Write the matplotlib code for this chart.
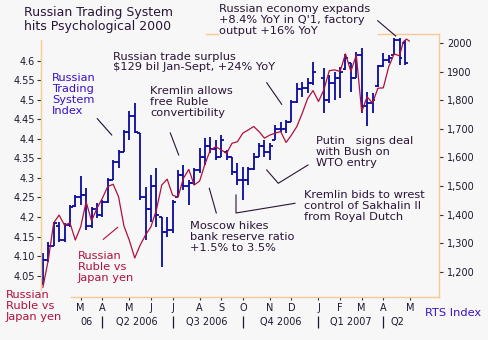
import matplotlib
matplotlib.use("Agg")
import matplotlib.pyplot as plt
from matplotlib.lines import Line2D
import numpy as np

W, H = 489, 340
BG = "#F7F7F7"
FRAME = "#F9C98F"
BLUE = "#0A0A9E"
RED = "#B0103C"
TXT = "#2A1438"
IDX = "#3A10C8"

# RTS weekly bars (week index from mid-Jan 2006; week 51 = New Year break, no bar)
weeks = [0, 1, 2, 3, 4, 5, 6, 7, 8, 9, 10, 11, 12, 13, 14, 15, 16, 17, 18, 19,
         20, 21, 22, 23, 24, 25, 26, 27, 28, 29, 30, 31, 32, 33, 34, 35, 36, 37, 38, 39,
         40, 41, 42, 43, 44, 45, 46, 47, 48, 49, 50, 52, 53, 54, 55, 56, 57, 58, 59, 60,
         61, 62, 63, 64, 65, 66, 67]
rts_high = [1265, 1305, 1375, 1375, 1370, 1434, 1469, 1535, 1492, 1428, 1440, 1451, 1527, 1591, 1626, 1696, 1763, 1791, 1686, 1498,
            1539, 1563, 1393, 1393, 1451, 1556, 1574, 1521, 1563, 1633, 1668, 1672, 1661, 1679, 1626, 1602, 1581, 1567, 1567, 1616,
            1651, 1661, 1651, 1714, 1724, 1731, 1801, 1861, 1864, 1878, 1935, 1913, 1889, 1899, 1917, 1963, 1931, 1970, 1984, 1831,
            1826, 1924, 1966, 1959, 2019, 2019, 2012]
rts_low = [1153, 1235, 1288, 1305, 1305, 1358, 1428, 1434, 1346, 1352, 1387, 1393, 1440, 1521, 1562, 1620, 1661, 1686, 1451, 1311,
           1375, 1358, 1217, 1323, 1335, 1463, 1486, 1434, 1504, 1546, 1574, 1616, 1591, 1602, 1591, 1539, 1504, 1451, 1504, 1556,
           1602, 1602, 1591, 1661, 1689, 1686, 1724, 1791, 1812, 1826, 1854, 1756, 1791, 1801, 1808, 1906, 1829, 1878, 1756, 1709,
           1756, 1847, 1917, 1931, 1959, 1924, 1924]
rts_open = [1160, 1240, 1290, 1360, 1310, 1365, 1430, 1460, 1470, 1360, 1420, 1400, 1445, 1521, 1585, 1620, 1690, 1745, 1686, 1460,
            1420, 1500, 1390, 1340, 1345, 1463, 1540, 1500, 1510, 1555, 1600, 1640, 1630, 1600, 1620, 1600, 1550, 1520, 1520, 1560,
            1600, 1640, 1620, 1661, 1700, 1700, 1725, 1795, 1840, 1845, 1860, 1880, 1800, 1860, 1880, 1910, 1930, 1880, 1960, 1780,
            1790, 1850, 1920, 1940, 1960, 2010, 2000]
rts_close = [1240, 1290, 1370, 1310, 1365, 1428, 1460, 1470, 1360, 1420, 1400, 1445, 1520, 1585, 1620, 1690, 1745, 1690, 1460, 1420,
             1500, 1400, 1340, 1345, 1445, 1540, 1500, 1510, 1555, 1600, 1640, 1630, 1600, 1660, 1600, 1550, 1520, 1520, 1560, 1600,
             1640, 1620, 1640, 1700, 1700, 1725, 1795, 1840, 1845, 1860, 1900, 1800, 1860, 1880, 1900, 1950, 1880, 1960, 1780, 1790,
             1800, 1920, 1940, 1950, 2010, 1950, 1930]

# Russian ruble vs Japan yen (left axis)
ruble_weeks = list(range(67)) + [66.7, 67.3, 67.8]
ruble_yen = [4.020, 4.090, 4.185, 4.205, 4.179, 4.185, 4.141, 4.175, 4.239, 4.190,
             4.222, 4.248, 4.278, 4.284, 4.252, 4.177, 4.140, 4.095, 4.128, 4.154,
             4.175, 4.218, 4.282, 4.297, 4.256, 4.251, 4.299, 4.322, 4.282, 4.292,
             4.336, 4.372, 4.380, 4.372, 4.363, 4.389, 4.393, 4.415, 4.423, 4.432,
             4.419, 4.402, 4.410, 4.415, 4.419, 4.391, 4.410, 4.432, 4.466, 4.504,
             4.524, 4.496, 4.526, 4.575, 4.577, 4.573, 4.618, 4.573, 4.615, 4.470,
             4.508, 4.492, 4.530, 4.531, 4.585, 4.618, 4.613, 4.649, 4.656, 4.651]

left_ticks = [4.05, 4.10, 4.15, 4.20, 4.25, 4.30, 4.35, 4.40, 4.45, 4.50, 4.55, 4.60]
left_labels = ["4.05", "4.10", "4.15", "4.2", "4.25", "4.3", "4.35", "4.4", "4.45", "4.5", "4.55", "4.6"]
right_ticks = [1200, 1300, 1400, 1500, 1600, 1700, 1800, 1900, 2000]
right_labels = ["1,200", "1,300", "1,400", "1,500", "1,600", "1,700", "1,800", "1900", "2000"]
month_weeks = [7, 11, 16, 20, 24, 29, 33, 37, 42, 46, 51, 55, 59, 63, 68]
month_labels = ["M", "A", "M", "J", "J", "A", "S", "O", "N", "D", "J", "F", "M", "A", "M"]
quarter_weeks = [8.0, 17.4, 30.4, 44.0, 56.9, 65.6]
quarter_labels = ["06", "Q2 2006", "Q3 2006", "Q4 2006", "Q1 2007", "Q2"]
quarter_breaks = [11, 24, 37, 51, 63]


def fx(px):
    return px / W


def fy(py):
    return 1 - py / H


fig = plt.figure(figsize=(W / 100, H / 100), dpi=100, facecolor=BG)
ax2 = fig.add_axes([fx(41), fy(297), (438.7 - 41) / W, (297 - 34) / H])
ax2.set_facecolor(BG)
ax = ax2.twinx()
ax.set_zorder(ax2.get_zorder() + 1)
ax.patch.set_visible(False)

# RTS bars on the right scale
ax2.vlines(weeks, rts_low, rts_high, color=BLUE, lw=1.3)
ax2.hlines(rts_open, np.array(weeks) - 0.55, weeks, color=BLUE, lw=1.3)
ax2.hlines(rts_close, weeks, np.array(weeks) + 0.55, color=BLUE, lw=1.3)
ax2.set_ylim(1111, 2032.6)
ax2.set_xlim(-0.35, 73.25)

# ruble line on the left scale
ax.plot(ruble_weeks, ruble_yen, color=RED, lw=0.9)
ax.set_ylim(3.995, 4.669)

# the twin swaps sides: put ruble ticks on the left, RTS on the right
ax.yaxis.tick_left()
ax2.yaxis.tick_right()
ax.set_yticks(left_ticks, left_labels)
ax2.set_yticks(right_ticks, right_labels)
ax.tick_params(axis="y", length=3, width=0.8, color="#333333", pad=1.5,
               labelsize=7, labelcolor="#1a1a2e")
ax2.tick_params(axis="y", length=3, width=0.8, color="#333333", pad=3,
                labelsize=7, labelcolor="#1a1a2e")
ax2.set_xticks(month_weeks, month_labels)
ax2.tick_params(axis="x", length=2, width=0.8, color="#333333", pad=2.5,
                labelsize=7, labelcolor="#1a1a2e")

for a in (ax, ax2):
    for s in a.spines.values():
        s.set_visible(False)

xt = ax2.get_xaxis_transform()
for q, lab in zip(quarter_weeks, quarter_labels):
    ax2.text(q, -0.094, lab, transform=xt, ha="center", va="center",
             fontsize=7, color="#1a1a2e", clip_on=False)
ax2.vlines(quarter_breaks, -0.118, -0.072, transform=xt, color="#1a1a2e",
           lw=0.9, clip_on=False)

# frame pieces left uncovered by the labels
frame = [[(41, 40), (41, 290)], [(71, 297), (438.7, 297)], [(438.7, 34), (438.7, 297)],
         [(206, 34), (218, 34)], [(378, 34), (438.7, 34)]]
for (x0, y0), (x1, y1) in frame:
    fig.add_artist(Line2D([fx(x0), fx(x1)], [fy(y0), fy(y1)], color=FRAME, lw=1.0))

# pointer lines
pointers = [
    ([(377.7, 20.7), (395.7, 36)], TXT),
    ([(266.7, 82.7), (281.7, 104.3)], TXT),
    ([(97.3, 118.7), (111.7, 135)], "#101040"),
    ([(170.3, 133), (178.7, 155)], TXT),
    ([(266.7, 170), (278.3, 183.3), (308, 165)], TXT),
    ([(209.3, 188.3), (216.3, 213)], TXT),
    ([(236, 195), (236, 213), (295, 203.3)], TXT),
    ([(103.3, 239.3), (117.7, 227.3)], RED),
]
for pts, c in pointers:
    fig.add_artist(Line2D([fx(p[0]) for p in pts], [fy(p[1]) for p in pts], color=c, lw=0.8))

notes = [
    (24, 6, "Russian Trading System\nhits Psychological 2000", TXT, 9.0),
    (219, 4.5, "Russian economy expands\n+8.4% YoY in Q'1, factory\noutput +16% YoY", TXT, 8.2),
    (113, 51.5, "Russian trade surplus\n$129 bil Jan-Sept, +24% YoY", TXT, 8.2),
    (52, 73, "Russian\nTrading\nSystem\nIndex", IDX, 8.2),
    (150, 86.5, "Kremlin allows\nfree Ruble\nconvertibility", TXT, 8.2),
    (316, 136.5, "Putin   signs deal\nwith Bush on\nWTO entry", TXT, 8.2),
    (304.3, 190, "Kremlin bids to wrest\ncontrol of Sakhalin II\nfrom Royal Dutch", TXT, 8.2),
    (190, 221, "Moscow hikes\nbank reserve ratio\n+1.5% to 3.5%", TXT, 8.2),
    (78, 251, "Russian\nRuble vs\nJapan yen", RED, 8.2),
    (6, 290, "Russian\nRuble vs\nJapan yen", RED, 8.2),
]
for x, y, s, c, fs in notes:
    fig.text(fx(x), fy(y), s, ha="left", va="top", color=c, fontsize=fs, linespacing=1.12)

fig.text(fx(425), fy(312.7), "RTS Index", ha="left", va="center", color=IDX, fontsize=8.2)

fig.savefig("out.png", dpi=100, facecolor=BG)
